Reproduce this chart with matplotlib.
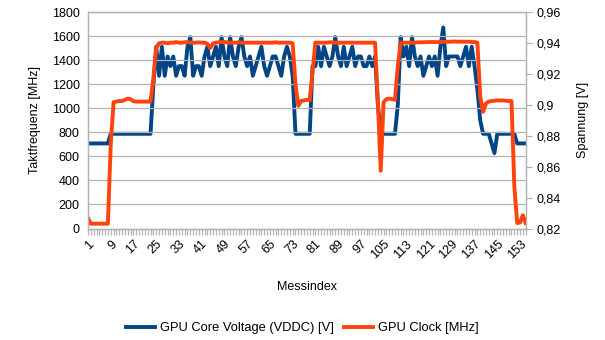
import matplotlib
matplotlib.use('Agg')
import matplotlib.pyplot as plt

plt.rcParams['font.family'] = ['Liberation Sans', 'DejaVu Sans']
plt.rcParams['font.size'] = 9

# Messindex 1..155
messindex = list(range(1, 156))

# GPU Clock [MHz] (linke Achse)
gpu_clock = [
    85, 40, 40, 40, 40, 40, 40, 40, 700, 1050,
    1055, 1060, 1060, 1070, 1080, 1075, 1058, 1055, 1055, 1055,
    1055, 1055, 1055, 1250, 1500, 1540, 1545, 1545, 1540, 1545,
    1545, 1550, 1545, 1545, 1548, 1550, 1545, 1545, 1545, 1548,
    1545, 1545, 1535, 1500, 1540, 1545, 1548, 1550, 1550, 1548,
    1545, 1545, 1545, 1548, 1545, 1545, 1545, 1545, 1545, 1545,
    1545, 1545, 1545, 1545, 1545, 1545, 1548, 1545, 1545, 1545,
    1545, 1545, 1540, 1200, 1020, 1060, 1065, 1070, 1065, 1300,
    1545, 1545, 1545, 1545, 1545, 1548, 1548, 1545, 1545, 1545,
    1545, 1545, 1545, 1545, 1545, 1545, 1545, 1545, 1545, 1545,
    1545, 1545, 1050, 480, 1050, 1075, 1080, 1075, 1070, 1350,
    1545, 1545, 1545, 1545, 1545, 1545, 1548, 1548, 1548, 1550,
    1550, 1550, 1550, 1550, 1550, 1553, 1553, 1553, 1553, 1555,
    1553, 1553, 1553, 1553, 1553, 1550, 1550, 1545, 1100, 970,
    1040, 1055, 1060, 1062, 1065, 1065, 1065, 1062, 1060, 1060,
    350, 45, 50, 110, 45,
]

# GPU Core Voltage (VDDC) [V] (rechte Achse)
vddc = [
    0.875, 0.875, 0.875, 0.875, 0.875, 0.875, 0.875, 0.875, 0.88125, 0.88125,
    0.88125, 0.88125, 0.88125, 0.88125, 0.88125, 0.88125, 0.88125, 0.88125, 0.88125, 0.88125,
    0.88125, 0.88125, 0.88125, 0.9125, 0.9375, 0.91875, 0.9375, 0.91875, 0.93125, 0.925,
    0.93125, 0.91875, 0.925, 0.925, 0.91875, 0.9375, 0.94375, 0.91875, 0.925, 0.925,
    0.91875, 0.93125, 0.9375, 0.925, 0.93125, 0.9375, 0.925, 0.94375, 0.93125, 0.925,
    0.94375, 0.93125, 0.925, 0.9375, 0.94375, 0.93125, 0.925, 0.93125, 0.91875, 0.925,
    0.93125, 0.9375, 0.925, 0.91875, 0.925, 0.93125, 0.93125, 0.925, 0.91875, 0.93125,
    0.9375, 0.93125, 0.91875, 0.88125, 0.88125, 0.88125, 0.88125, 0.88125, 0.88125, 0.925,
    0.925, 0.9375, 0.925, 0.9375, 0.93125, 0.925, 0.93125, 0.94375, 0.93125, 0.925,
    0.9375, 0.925, 0.93125, 0.9375, 0.925, 0.93125, 0.93125, 0.925, 0.925, 0.93125,
    0.925, 0.93125, 0.9, 0.88125, 0.88125, 0.88125, 0.88125, 0.88125, 0.88125, 0.9,
    0.94375, 0.93125, 0.9375, 0.925, 0.94375, 0.93125, 0.925, 0.93125, 0.91875, 0.925,
    0.93125, 0.925, 0.93125, 0.91875, 0.9375, 0.95, 0.925, 0.93125, 0.93125, 0.93125,
    0.93125, 0.925, 0.93125, 0.9375, 0.925, 0.9375, 0.925, 0.91, 0.89, 0.88125,
    0.88125, 0.88125, 0.875, 0.86875, 0.88125, 0.88125, 0.88125, 0.88125, 0.88125, 0.88125,
    0.88125, 0.875, 0.875, 0.875, 0.875,
]

mhz_ticks = list(range(0, 1801, 200))
volt_ticks = [0.82, 0.84, 0.86, 0.88, 0.9, 0.92, 0.94, 0.96]
volt_labels = ['0,82', '0,84', '0,86', '0,88', '0,9', '0,92', '0,94', '0,96']

grau = '#b3b3b3'
blau = '#004586'
rot = '#ff420e'

fig = plt.figure(figsize=(6.05, 3.4), dpi=100)
ax = fig.add_axes([88 / 605, 1 - 228.5 / 340, (525.7 - 88) / 605, (228.5 - 12) / 340])
ax2 = ax.twinx()

# rote Linie soll über der blauen liegen
ax.set_zorder(ax2.get_zorder() + 1)
ax.patch.set_visible(False)

l1, = ax2.plot(messindex, vddc, color=blau, lw=2.8, solid_joinstyle='round')
l2, = ax.plot(messindex, gpu_clock, color=rot, lw=2.8, solid_joinstyle='round')

ax.set_xlim(1, 155)
ax.set_ylim(0, 1800)
ax2.set_ylim(0.82, 0.96)

ax.set_yticks(mhz_ticks)
ax2.set_yticks(volt_ticks)
ax2.set_yticklabels(volt_labels)

ax.set_xticks(messindex)
ax.set_xticklabels([str(i) if (i - 1) % 8 == 0 else '' for i in messindex],
                   rotation=45, ha='right', va='top', rotation_mode='anchor')

ax2.yaxis.grid(False)
ax.yaxis.grid(True, color=grau, lw=0.9)
ax.set_axisbelow(True)

for a in (ax, ax2):
    for s in a.spines.values():
        s.set_color(grau)
        s.set_linewidth(0.9)
    a.tick_params(colors=grau, labelcolor='black', width=0.9, length=4)
ax.tick_params(axis='y', length=0, pad=6)
ax.tick_params(axis='x', length=4, pad=3)

ax.set_xlabel('Messindex', labelpad=14)
ax.set_ylabel('Taktfrequenz [MHz]', labelpad=8)
ax2.set_ylabel('Spannung [V]', labelpad=12)

fig.legend([l1, l2], ['GPU Core Voltage (VDDC) [V]', 'GPU Clock [MHz]'],
           loc='center', bbox_to_anchor=(0.5, 1 - 328 / 340), ncol=2,
           frameon=False, handlelength=2.2, handletextpad=0.4,
           columnspacing=0.8, fontsize=9.3)

fig.savefig('out.png', dpi=100)
